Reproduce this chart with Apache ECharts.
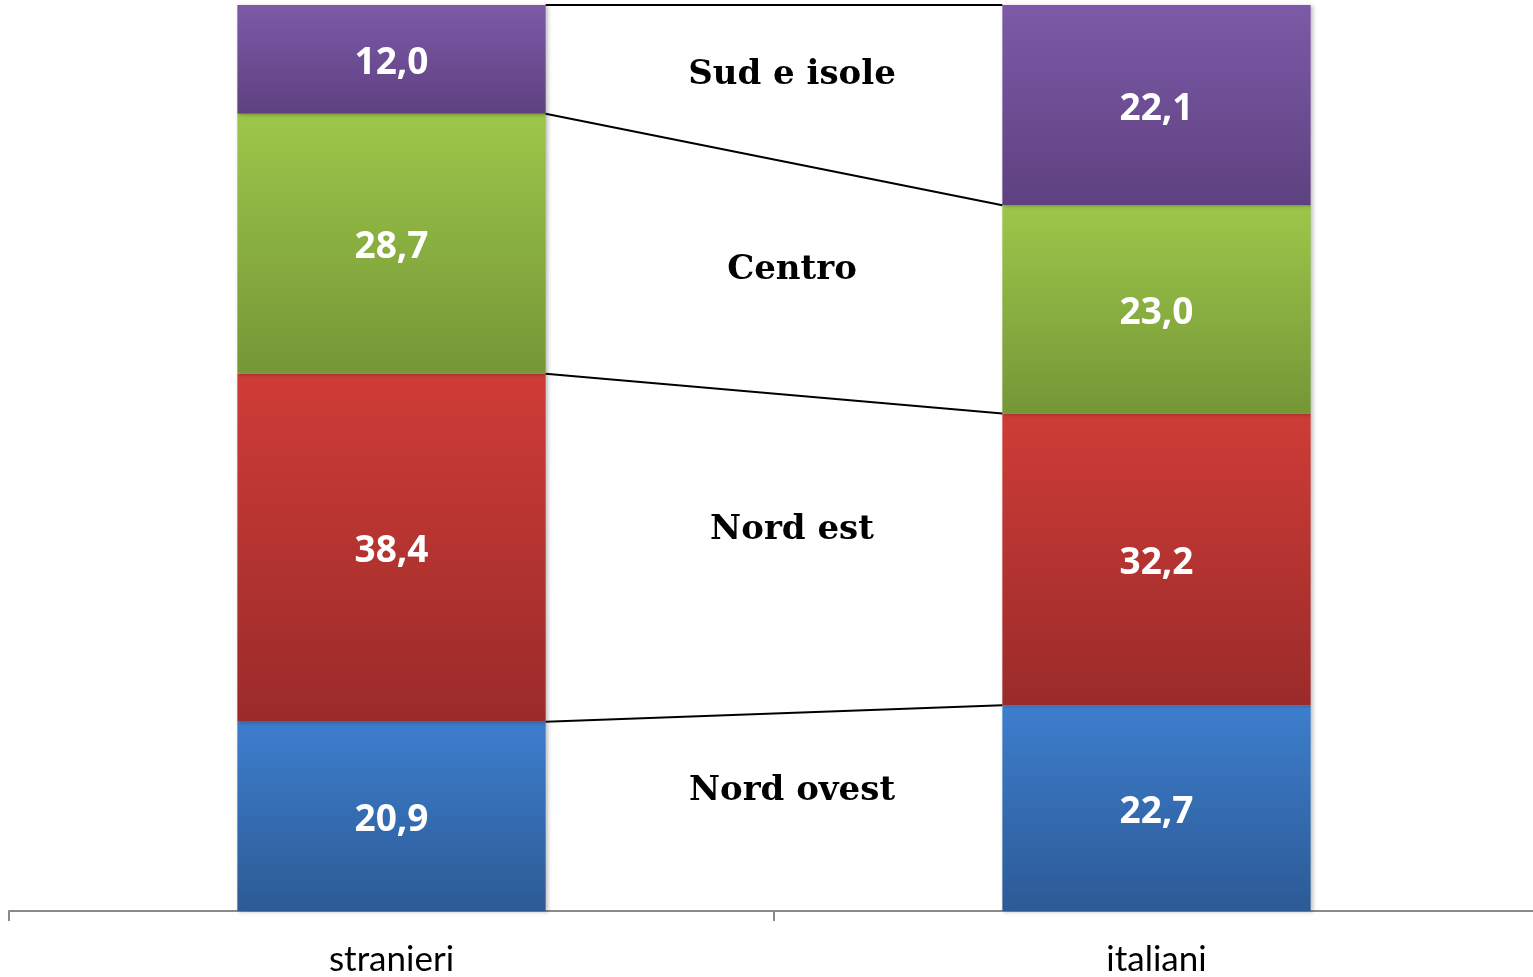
<!DOCTYPE html>
<html><head><meta charset="utf-8">
<script src="https://cdn.jsdelivr.net/npm/echarts@6/dist/echarts.min.js"></script>
<style>html,body{margin:0;padding:0;background:#fff;overflow:hidden}#c{width:1540px;height:977px}</style>
</head><body><div id="c"></div>
<script>
const categories = ['stranieri', 'italiani'];
const regions = ['Nord ovest', 'Nord est', 'Centro', 'Sud e isole'];
const nordOvest = [20.9, 22.7];
const nordEst = [38.4, 32.2];
const centro = [28.7, 23.0];
const sudIsole = [12.0, 22.1];
// vertical position (in % units) of the region names between the bars
const regionLabelY = [13.2, 42.0, 70.7, 92.3];

const seriesValues = [nordOvest, nordEst, centro, sudIsole];
const gradients = [
  ['#3d7ecd', '#2c5a95'],
  ['#cf3c37', '#9a2b2a'],
  ['#9cc74a', '#769637'],
  ['#7c5aa7', '#5e4180']
];
const BAR_FRAC = 0.403;

const chart = echarts.init(document.getElementById('c'));

const barSeries = seriesValues.map((vals, i) => ({
  name: regions[i],
  type: 'bar',
  stack: 'tot',
  barWidth: (BAR_FRAC * 100) + '%',
  data: vals,
  itemStyle: {
    color: new echarts.graphic.LinearGradient(0, 0, 0, 1, [
      {offset: 0, color: gradients[i][0]},
      {offset: 1, color: gradients[i][1]}
    ]),
    shadowColor: 'rgba(0,0,0,0.25)', shadowBlur: 4, shadowOffsetX: 2, shadowOffsetY: 1
  },
  label: {
    show: true, position: 'inside', color: '#fff', offset: [0, 4],
    fontFamily: 'Open Sans', fontWeight: 'bold', fontSize: 37,
    formatter: p => p.value.toFixed(1).replace('.', ',')
  },
  z: 2
}));

// cumulative boundaries for the connecting lines
const boundaries = [];
let c0 = 0, c1 = 0;
seriesValues.forEach(v => { c0 += v[0]; c1 += v[1]; boundaries.push([c0, c1]); });

const lineSeries = {
  type: 'custom',
  data: boundaries,
  z: 3,
  silent: true,
  renderItem: (params, api) => {
    const p0 = api.coord([0, api.value(0)]);
    const p1 = api.coord([1, api.value(1)]);
    const half = api.size([1, 0])[0] * BAR_FRAC / 2;
    return {
      type: 'line',
      shape: {x1: p0[0] + half, y1: p0[1], x2: p1[0] - half, y2: p1[1]},
      style: {stroke: '#000', lineWidth: 2}
    };
  }
};

const nameSeries = {
  type: 'custom',
  data: regionLabelY.map((y, i) => [y, i]),
  z: 4,
  silent: true,
  renderItem: (params, api) => {
    const p0 = api.coord([0, api.value(0)]);
    const p1 = api.coord([1, api.value(0)]);
    return {
      type: 'text',
      x: (p0[0] + p1[0]) / 2 + 18, y: p0[1],
      style: {
        text: regions[api.value(1)], align: 'center', verticalAlign: 'middle',
        fontFamily: 'DejaVu Serif', fontWeight: 'bold', fontSize: 34, fill: '#000'
      }
    };
  }
};

chart.setOption({
  animation: false,
  grid: {left: 9, right: 1, top: 5, bottom: 64},
  xAxis: {
    type: 'category', data: categories,
    axisLine: {lineStyle: {color: '#8a8a8a', width: 2}},
    axisTick: {show: true, length: 10, lineStyle: {color: '#8a8a8a', width: 2}},
    axisLabel: {color: '#000', fontFamily: 'Lato', fontSize: 35, margin: 31}
  },
  yAxis: {type: 'value', min: 0, max: 100, show: false, splitLine: {show: false}},
  series: [...barSeries, lineSeries, nameSeries]
});
</script></body></html>
